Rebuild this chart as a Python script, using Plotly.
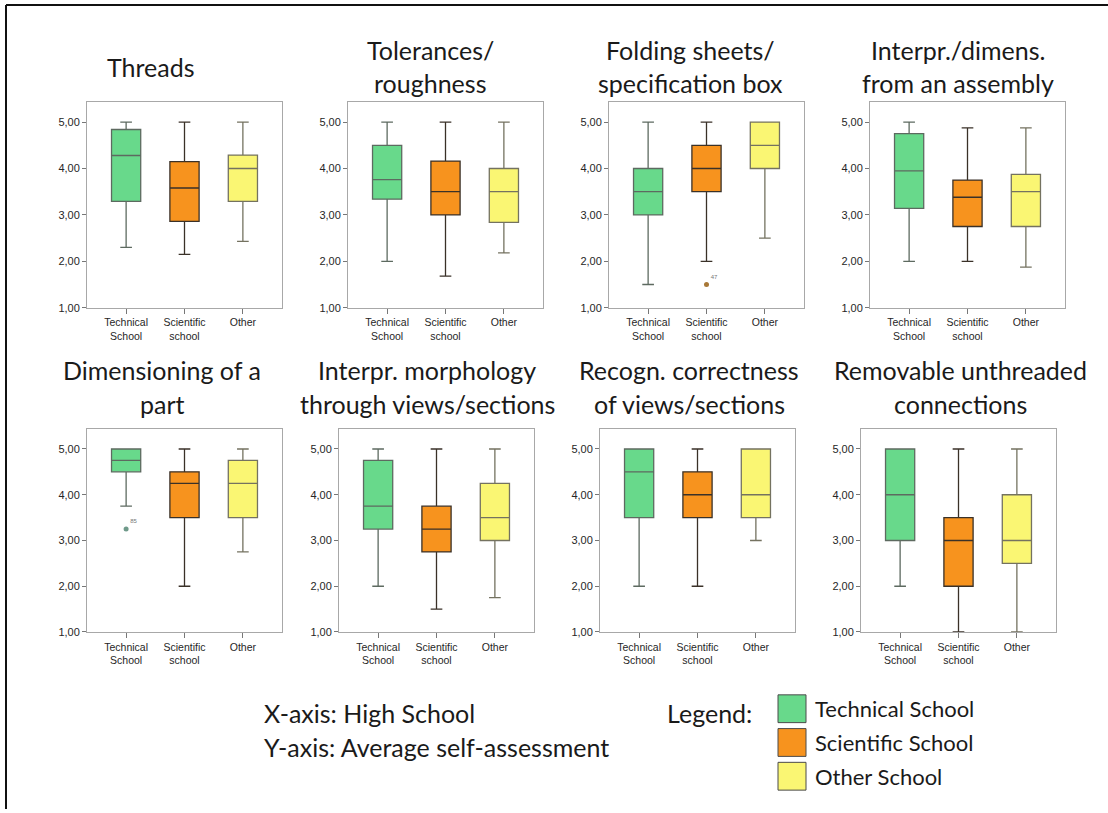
import plotly.graph_objects as go

# ---------------- data ----------------
CATEGORIES = ["Technical<br>School", "Scientific<br>school", "Other"]
GROUP_NAMES = ["Technical School", "Scientific School", "Other School"]
TITLES = [
    "Threads",
    "Tolerances/<br>roughness",
    "Folding sheets/<br>specification box",
    "Interpr./dimens.<br>from an assembly",
    "Dimensioning of a<br>part",
    "Interpr. morphology<br>through views/sections",
    "Recogn. correctness<br>of views/sections",
    "Removable unthreaded<br>connections",
]
LOWER = [[2.30, 2.15, 2.43], [2.00, 1.68, 2.18], [1.50, 2.00, 2.50], [2.00, 2.00, 1.875],
         [3.75, 2.00, 2.75], [2.00, 1.50, 1.75], [2.00, 2.00, 3.00], [2.00, 1.00, 1.00]]
Q1 = [[3.29, 2.86, 3.29], [3.34, 3.00, 2.84], [3.00, 3.50, 4.00], [3.14, 2.75, 2.75],
      [4.50, 3.50, 3.50], [3.25, 2.75, 3.00], [3.50, 3.50, 3.50], [3.00, 2.00, 2.50]]
MEDIAN = [[4.28, 3.58, 4.00], [3.76, 3.50, 3.50], [3.50, 4.00, 4.50], [3.95, 3.38, 3.50],
          [4.75, 4.25, 4.25], [3.75, 3.25, 3.50], [4.50, 4.00, 4.00], [4.00, 3.00, 3.00]]
Q3 = [[4.84, 4.15, 4.29], [4.50, 4.16, 4.00], [4.00, 4.50, 5.00], [4.75, 3.75, 3.875],
      [5.00, 4.50, 4.75], [4.75, 3.75, 4.25], [5.00, 4.50, 5.00], [5.00, 3.50, 4.00]]
UPPER = [[5.0, 5.0, 5.0], [5.0, 5.0, 5.0], [5.0, 5.0, 5.0], [5.0, 4.875, 4.875],
         [5.0, 5.0, 5.0], [5.0, 5.0, 5.0], [5.0, 5.0, 5.0], [5.0, 5.0, 5.0]]
OUTLIER_PANEL = [2, 4]
OUTLIER_GROUP = [1, 0]
OUTLIER_VALUE = [1.5, 3.25]
OUTLIER_LABEL = ["47", "85"]
Y_TICKS = [1, 2, 3, 4, 5]

# ---------------- styling ----------------
W, H = 1108, 813
FILL = ["#68D98B", "#F7931E", "#FAF673"]
LINE = ["#5d6a60", "#3a3128", "#747260"]
OUTLIER_COLOR = ["#a87838", "#6f9a8a"]
TITLE_FONT = "Lato, 'Open Sans', sans-serif"
TICK_FONT = "Arial, 'Liberation Sans', sans-serif"

# pixel layout of the panels (left, right) and rows (top, bottom)
X_PIX = [(87, 282), (348, 543), (609, 804), (870, 1065),
         (87, 282), (339, 534), (600, 795), (861, 1056)]
ROW_PIX = [(102.9, 310.0), (432.5, 636.7)]
TITLE_X = [151, 430, 690, 958, 162, 427, 689, 960]
TITLE_LINE_Y = [(50, 84), (373, 407)]


def px(x):
    return x / W


def py(y):
    return 1 - y / H


fig = go.Figure()

for p in range(8):
    row = 0 if p < 4 else 1
    ax = "" if p == 0 else str(p + 1)
    xa, ya = "x" + ax, "y" + ax
    for g in range(3):
        fig.add_trace(go.Box(
            x=[CATEGORIES[g]], q1=[Q1[p][g]], median=[MEDIAN[p][g]], q3=[Q3[p][g]],
            lowerfence=[LOWER[p][g]], upperfence=[UPPER[p][g]],
            fillcolor=FILL[g], line=dict(color=LINE[g], width=1.3),
            width=0.5, whiskerwidth=0.4, boxpoints=False,
            xaxis=xa, yaxis=ya, showlegend=False, hoverinfo="skip",
        ))
    l, r = X_PIX[p]
    t, b = ROW_PIX[row]
    fig.layout["xaxis" + ax] = dict(
        domain=[px(l), px(r)], anchor=ya, type="category",
        categoryorder="array", categoryarray=CATEGORIES,
        range=[-0.67, 2.67], showgrid=False, zeroline=False,
        showline=True, mirror=True, linecolor="#a8a8a8", linewidth=1,
        ticks="outside", ticklen=5, tickcolor="#777",
        tickfont=dict(family=TICK_FONT, size=10.5, color="#262626"),
    )
    fig.layout["yaxis" + ax] = dict(
        domain=[py(b), py(t)], anchor=xa, range=[1, 5.43],
        tickvals=Y_TICKS, tickformat=".2f", showgrid=False, zeroline=False,
        showline=True, mirror=True, linecolor="#a8a8a8", linewidth=1,
        ticks="outside", ticklen=4, tickcolor="#777",
        tickfont=dict(family=TICK_FONT, size=11, color="#262626"),
    )
    # titles, one annotation per line
    lines = TITLES[p].split("<br>")
    y_lines = TITLE_LINE_Y[row] if len(lines) == 2 else [sum(TITLE_LINE_Y[row]) / 2]
    for txt, yy in zip(lines, y_lines):
        fig.add_annotation(x=px(TITLE_X[p]), y=py(yy), xref="paper", yref="paper",
                           text=txt, showarrow=False, xanchor="center", yanchor="middle",
                           font=dict(family=TITLE_FONT, size=25, color="#1a1a1a"))

# outliers
for i in range(len(OUTLIER_PANEL)):
    p, g = OUTLIER_PANEL[i], OUTLIER_GROUP[i]
    ax = "" if p == 0 else str(p + 1)
    fig.add_trace(go.Scatter(
        x=[CATEGORIES[g]], y=[OUTLIER_VALUE[i]], mode="markers+text",
        marker=dict(size=5, color=OUTLIER_COLOR[i]),
        text=[OUTLIER_LABEL[i]], textposition="top right",
        textfont=dict(family=TICK_FONT, size=6, color="#777"),
        xaxis="x" + ax, yaxis="y" + ax, showlegend=False, hoverinfo="skip",
    ))

# bottom explanatory text
fig.add_annotation(x=px(262), y=py(718), xref="paper", yref="paper", text="X-axis: High School",
                   showarrow=False, xanchor="left", yanchor="middle",
                   font=dict(family=TITLE_FONT, size=25, color="#1a1a1a"))
fig.add_annotation(x=px(262), y=py(753), xref="paper", yref="paper", text="Y-axis: Average self-assessment",
                   showarrow=False, xanchor="left", yanchor="middle",
                   font=dict(family=TITLE_FONT, size=25, color="#1a1a1a"))
fig.add_annotation(x=px(665), y=py(718), xref="paper", yref="paper", text="Legend:",
                   showarrow=False, xanchor="left", yanchor="middle",
                   font=dict(family=TITLE_FONT, size=25, color="#1a1a1a"))

LEG_Y = [714, 748, 782]
for g in range(3):
    fig.add_shape(type="rect", xref="paper", yref="paper",
                  x0=px(778), x1=px(806), y0=py(LEG_Y[g] - 14), y1=py(LEG_Y[g] + 14),
                  fillcolor=FILL[g], line=dict(color="#4a4a4a", width=1))
    fig.add_annotation(x=px(813), y=py(LEG_Y[g]), xref="paper", yref="paper", text=GROUP_NAMES[g],
                       showarrow=False, xanchor="left", yanchor="middle",
                       font=dict(family=TITLE_FONT, size=22, color="#1a1a1a"))

# outer frame (top and left edges)
fig.add_shape(type="line", xref="paper", yref="paper", x0=px(6), x1=px(W), y0=py(5), y1=py(5),
              line=dict(color="#111", width=2))
fig.add_shape(type="line", xref="paper", yref="paper", x0=px(6), x1=px(6), y0=py(5), y1=py(H + 2),
              line=dict(color="#111", width=2))

fig.update_layout(
    width=W, height=H, margin=dict(l=0, r=0, t=0, b=0),
    paper_bgcolor="white", plot_bgcolor="white",
    separators=",.", showlegend=False,
)

fig.write_html("out.html", config={"displayModeBar": False},
               post_script="document.body.style.margin='0';")
